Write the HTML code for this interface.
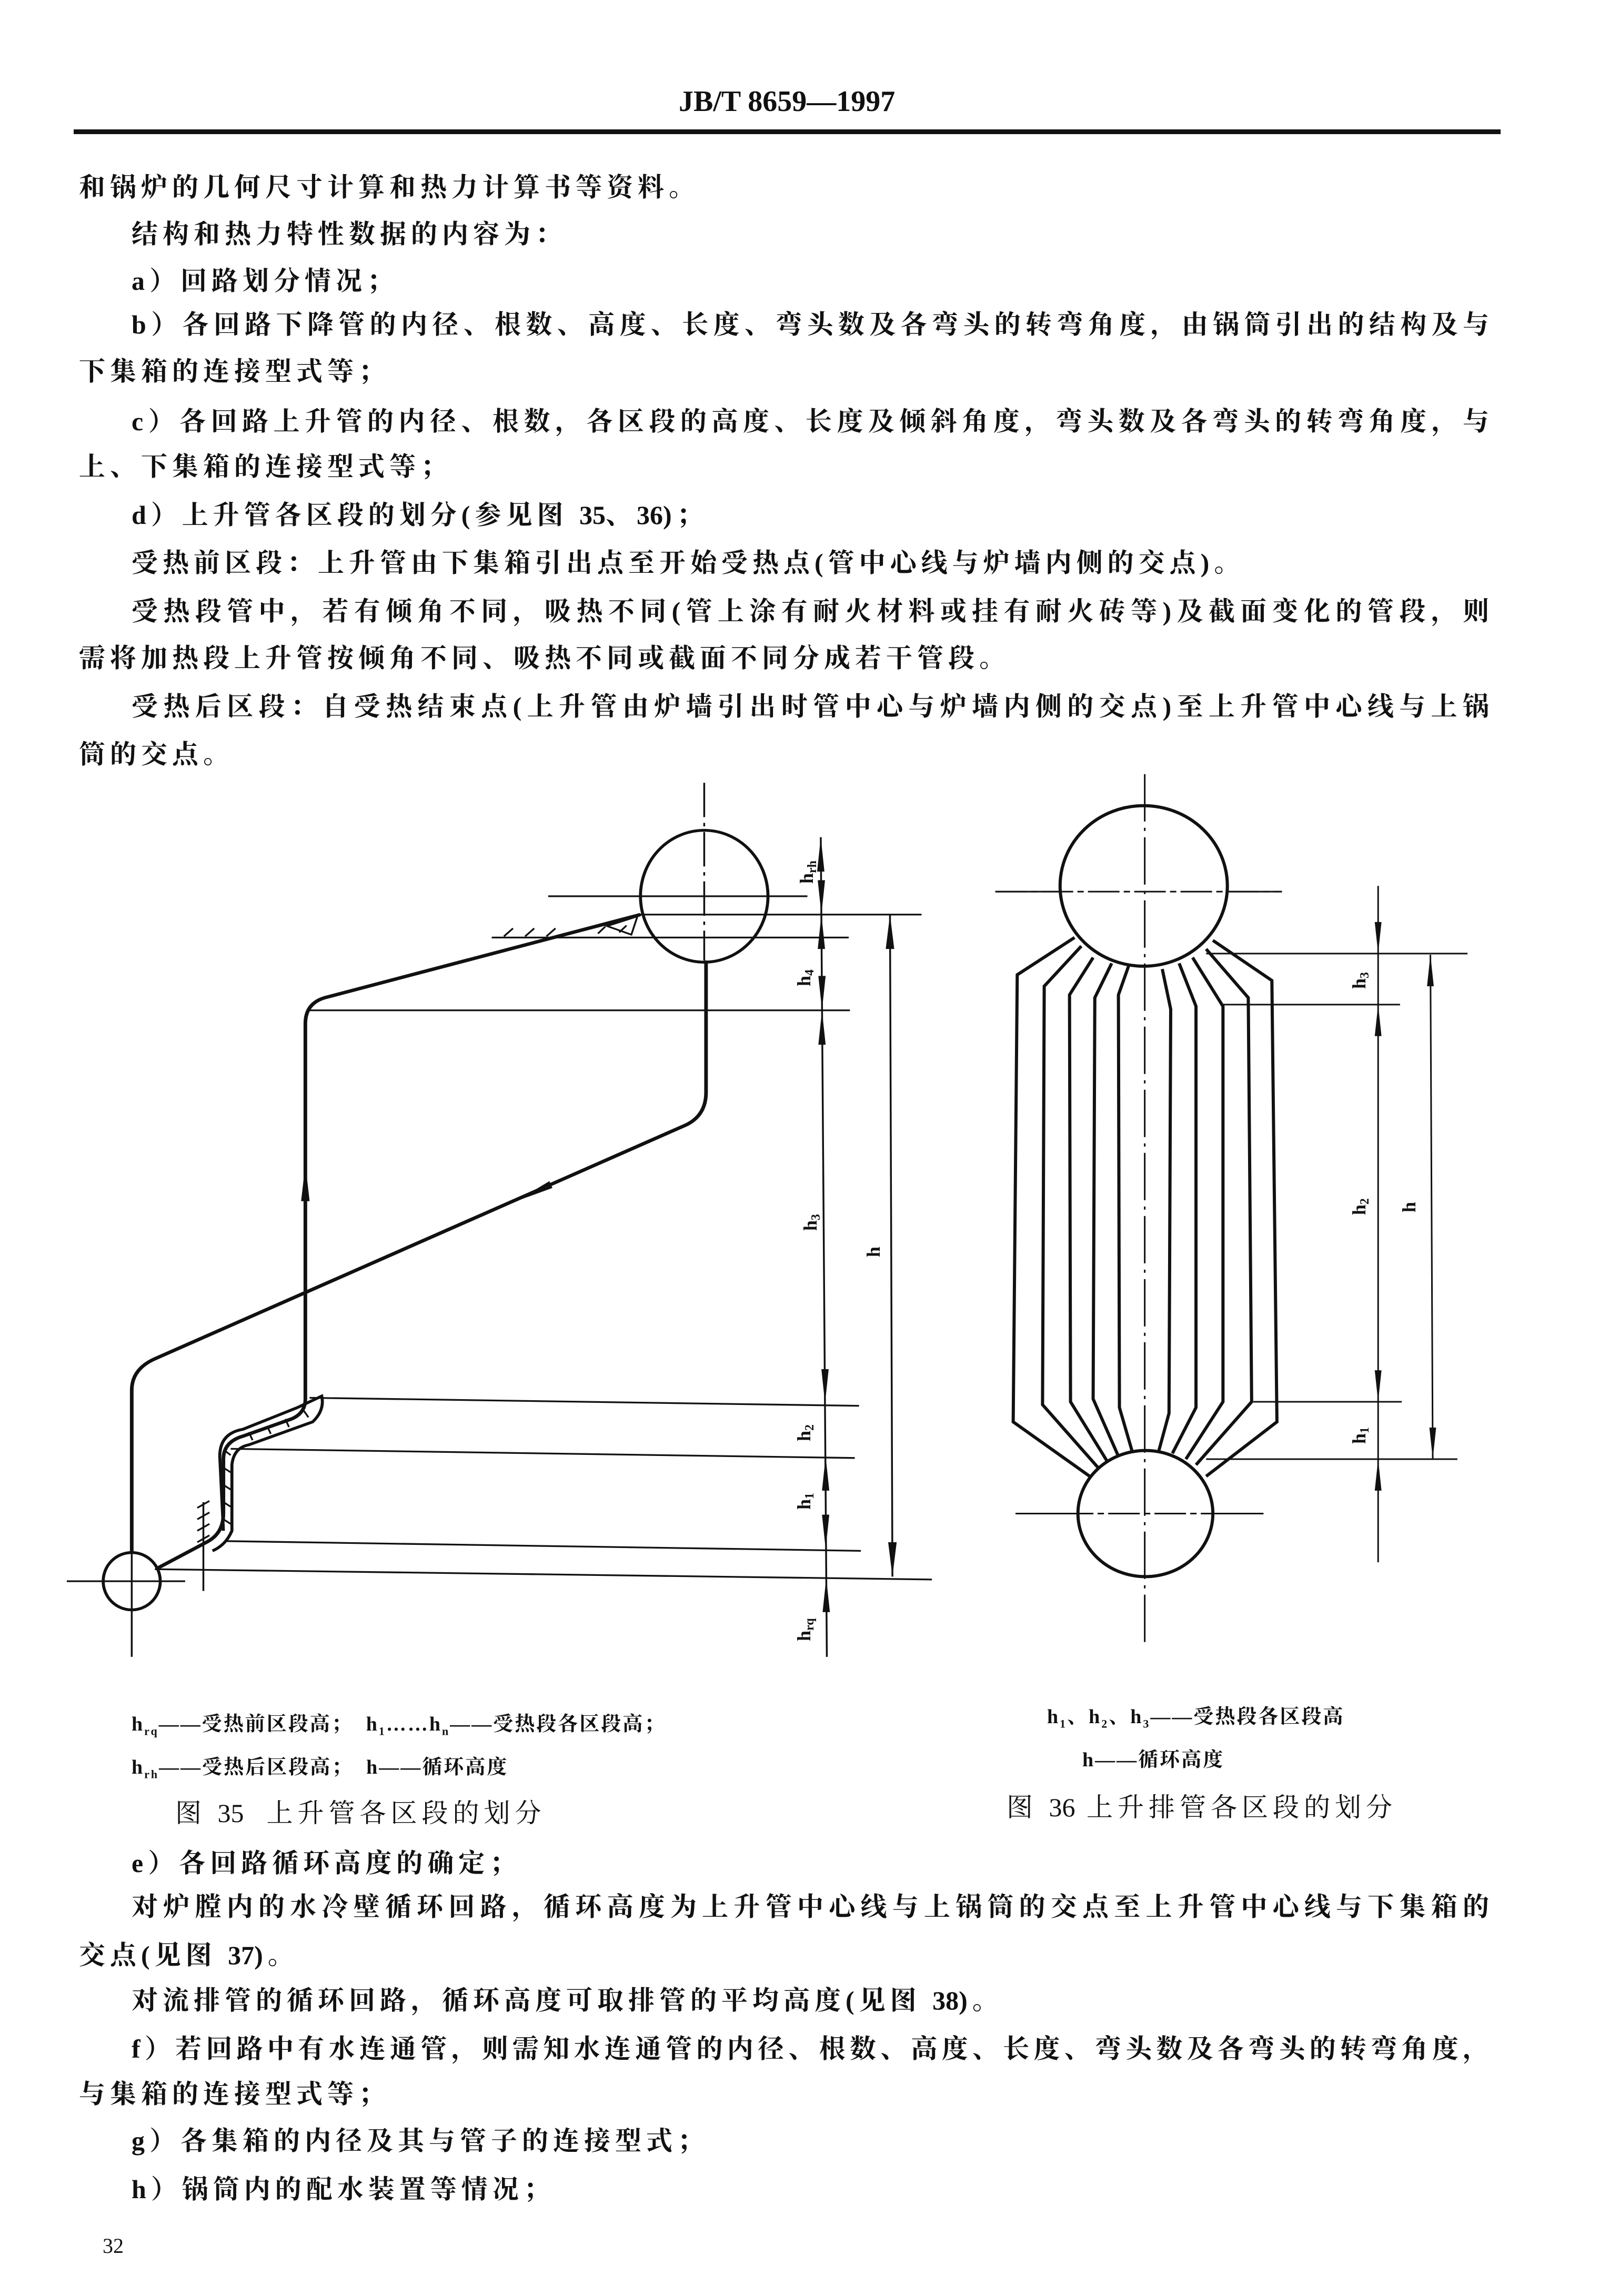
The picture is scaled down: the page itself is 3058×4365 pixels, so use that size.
<!DOCTYPE html>
<html><head><meta charset="utf-8"><style>
body{margin:0;background:#fff}
#p{position:relative;width:3058px;height:4365px;overflow:hidden;background:#fff;color:#111}
.t{position:absolute;font-family:"Liberation Serif","Noto Serif CJK SC",serif;font-size:50px;line-height:60px;white-space:nowrap;font-weight:bold;letter-spacing:9px}
.j{text-align:justify;text-align-last:justify;letter-spacing:0}
.s{font-size:38px;letter-spacing:3px}
.n{letter-spacing:0}
svg{position:absolute;left:0;top:0}
</style></head><body><div id="p">
<div class="t" style="left:1290px;top:163px;font-size:56px;letter-spacing:0">JB/T 8659—1997</div>
<div style="position:absolute;left:140px;top:246px;width:2712px;height:9px;background:#111"></div>

<div class="t" style="left:150px;top:326px">和锅炉的几何尺寸计算和热力计算书等资料。</div>
<div class="t" style="left:250px;top:415px">结构和热力特性数据的内容为：</div>
<div class="t" style="left:250px;top:504px">a）回路划分情况；</div>
<div class="t j" style="left:250px;top:587px;width:2580px">b）各回路下降管的内径、根数、高度、长度、弯头数及各弯头的转弯角度，由锅筒引出的结构及与</div>
<div class="t" style="left:150px;top:676px">下集箱的连接型式等；</div>
<div class="t j" style="left:250px;top:771px;width:2580px">c）各回路上升管的内径、根数，各区段的高度、长度及倾斜角度，弯头数及各弯头的转弯角度，与</div>
<div class="t" style="left:150px;top:857px">上、下集箱的连接型式等；</div>
<div class="t" style="left:250px;top:949px">d）上升管各区段的划分(参见图 <span class="n">35</span>、<span class="n">36</span>)；</div>
<div class="t" style="left:250px;top:1040px">受热前区段：上升管由下集箱引出点至开始受热点(管中心线与炉墙内侧的交点)。</div>
<div class="t j" style="left:250px;top:1132px;width:2580px">受热段管中，若有倾角不同，吸热不同(管上涂有耐火材料或挂有耐火砖等)及截面变化的管段，则</div>
<div class="t" style="left:150px;top:1221px">需将加热段上升管按倾角不同、吸热不同或截面不同分成若干管段。</div>
<div class="t j" style="left:250px;top:1313px;width:2580px">受热后区段：自受热结束点(上升管由炉墙引出时管中心与炉墙内侧的交点)至上升管中心线与上锅</div>
<div class="t" style="left:150px;top:1404px">筒的交点。</div>

<svg width="3058" height="4365">
<g transform="translate(0,1450) scale(1.1538,1.0897)" fill="none" stroke="#111">
 <line x1="903" y1="233" x2="1330" y2="233" stroke-width="3"/>
 <line x1="1160" y1="35" x2="1160" y2="345" stroke-width="3" stroke-dasharray="60 10 6 10"/>
 <line x1="1050" y1="265" x2="1518" y2="265" stroke-width="3"/>
 <line x1="810" y1="305" x2="1398" y2="305" stroke-width="3"/>
 <line x1="510" y1="432" x2="1400" y2="432" stroke-width="3"/>
 <line x1="510" y1="1108" x2="1415" y2="1122" stroke-width="3"/>
 <line x1="380" y1="1197" x2="1408" y2="1213" stroke-width="3"/>
 <line x1="370" y1="1358" x2="1418" y2="1375" stroke-width="3"/>
 <line x1="255" y1="1407" x2="1535" y2="1425" stroke-width="3"/>
 <line x1="110" y1="1428" x2="305" y2="1428" stroke-width="3"/>
 <line x1="217" y1="1380" x2="217" y2="1560" stroke-width="3"/>
 <line x1="335" y1="1290" x2="335" y2="1445" stroke-width="3"/>
 <line x1="1352" y1="130" x2="1362" y2="1560" stroke-width="3"/>
 <line x1="1466" y1="265" x2="1470" y2="1420" stroke-width="3"/>
 <path d="M830 303 l15 -14 M865 303 l15 -14 M900 303 l15 -14 M985 298 l12 -12 M1020 296 l12 -12 M325 1300 l20 -12 M325 1320 l20 -12 M325 1340 l20 -12 M325 1360 l20 -12" stroke-width="3"/>
 <path d="M1163 345 L1163 575 Q1163 615 1130 632 L255 1040 Q217 1058 217 1095 L217 1380" stroke-width="6"/>
 <path d="M260 1405 L340 1360 Q368 1345 368 1310 L368 1215 Q368 1185 400 1175 L480 1145 Q503 1135 503 1110 L503 455 Q503 420 535 410 L1055 265" stroke-width="6"/>
 <path d="M368 1340 L362 1210 Q362 1170 400 1163 L490 1125 Q520 1110 530 1105 Q535 1130 515 1150 L410 1190 Q385 1195 382 1225 L382 1340 Q372 1365 350 1375" stroke-width="5"/>
 <path d="M370 1200 l10 8 M368 1230 l12 8 M368 1260 l12 8 M368 1290 l12 8 M368 1320 l12 8 M410 1168 l6 14 M440 1157 l6 14 M470 1145 l6 14 M500 1130 l8 12" stroke-width="3"/>
 <path d="M1000 285 L1050 268 L1040 300 Z" stroke-width="3"/>
 <ellipse cx="1160" cy="233" rx="105" ry="115" stroke-width="5"/>
 <ellipse cx="217" cy="1428" rx="47" ry="50" stroke-width="5"/>
 <g fill="#111" stroke="none">
  <path d="M503 700 l-7 65 l14 0 Z"/>
  <path d="M850 765 l55 -35 l5 12 Z"/>
  <path d="M1352 130 l-6 60 l12 0 Z M1353 265 l-6 -60 l12 0Z M1353 265 l-6 60 l12 0Z M1354 432 l-6 -60 l12 0Z M1354 432 l-6 60 l12 0Z M1359 1118 l-6 -60 l12 0Z M1360 1210 l-6 60 l12 0Z M1360 1372 l-6 -60 l12 0Z M1361 1422 l-6 60 l12 0Z"/>
  <path d="M1466 265 l-7 60 l14 0Z M1470 1420 l-7 -60 l14 0Z"/>
 </g>
</g>
<g font-family="Liberation Serif,serif" font-weight="bold" font-size="36" fill="#111">
 <text transform="translate(1545,1680) rotate(-90)">h<tspan font-size="24" dy="6">rh</tspan></text>
 <text transform="translate(1540,1875) rotate(-90)">h<tspan font-size="24" dy="6">4</tspan></text>
 <text transform="translate(1552,2340) rotate(-90)">h<tspan font-size="24" dy="6">3</tspan></text>
 <text transform="translate(1672,2390) rotate(-90)">h</text>
 <text transform="translate(1540,2740) rotate(-90)">h<tspan font-size="24" dy="6">2</tspan></text>
 <text transform="translate(1540,2870) rotate(-90)">h<tspan font-size="24" dy="6">1</tspan></text>
 <text transform="translate(1540,3120) rotate(-90)">h<tspan font-size="24" dy="6">rq</tspan></text>
</g>

<g transform="translate(1850,1450) scale(0.641,1.0897)" fill="none" stroke="#111">
 <line x1="65" y1="225" x2="915" y2="225" stroke-width="3" vector-effect="non-scaling-stroke"/>
 <line x1="125" y1="1310" x2="860" y2="1310" stroke-width="3" vector-effect="non-scaling-stroke"/>
 <line x1="690" y1="333" x2="1465" y2="333" stroke-width="3" vector-effect="non-scaling-stroke"/>
 <line x1="740" y1="422" x2="1265" y2="422" stroke-width="3" vector-effect="non-scaling-stroke"/>
 <line x1="830" y1="1115" x2="1270" y2="1115" stroke-width="3" vector-effect="non-scaling-stroke"/>
 <line x1="690" y1="1215" x2="1435" y2="1215" stroke-width="3" vector-effect="non-scaling-stroke"/>
 <line x1="1200" y1="215" x2="1200" y2="1395" stroke-width="3" vector-effect="non-scaling-stroke"/>
 <line x1="1355" y1="335" x2="1362" y2="1215" stroke-width="3" vector-effect="non-scaling-stroke"/>
 <g stroke-width="6">
 <polyline vector-effect="non-scaling-stroke" points="300,305 130,370 118,1150 345,1245"/>
 <polyline vector-effect="non-scaling-stroke" points="320,320 210,390 205,1120 370,1230"/>
 <polyline vector-effect="non-scaling-stroke" points="355,340 285,405 288,1115 398,1220"/>
 <polyline vector-effect="non-scaling-stroke" points="410,350 360,410 355,1110 430,1210"/>
 <polyline vector-effect="non-scaling-stroke" points="460,355 430,405 433,1125 470,1200"/>
 <polyline vector-effect="non-scaling-stroke" points="560,360 585,430 580,1135 550,1200"/>
 <polyline vector-effect="non-scaling-stroke" points="610,350 660,425 660,1125 590,1205"/>
 <polyline vector-effect="non-scaling-stroke" points="650,340 740,425 740,1115 630,1215"/>
 <polyline vector-effect="non-scaling-stroke" points="690,325 815,410 825,1115 660,1225"/>
 <polyline vector-effect="non-scaling-stroke" points="710,310 885,380 900,1150 690,1245"/>
 </g>
 <ellipse cx="505" cy="215" rx="248" ry="140" fill="#fff" stroke-width="6" vector-effect="non-scaling-stroke"/>
 <ellipse cx="510" cy="1310" rx="200" ry="110" fill="#fff" stroke-width="6" vector-effect="non-scaling-stroke"/>
 <line x1="65" y1="225" x2="915" y2="225" stroke-width="3" stroke-dasharray="60 8 12 8" vector-effect="non-scaling-stroke"/>
 <line x1="125" y1="1310" x2="860" y2="1310" stroke-width="3" stroke-dasharray="60 8 12 8" vector-effect="non-scaling-stroke"/>
 <line x1="508" y1="20" x2="508" y2="1545" stroke-width="3" stroke-dasharray="90 12 6 12" vector-effect="non-scaling-stroke"/>
 <g fill="#111" stroke="none">
  <path d="M1200 333 l-10 -55 l20 0Z M1200 422 l-10 55 l20 0Z M1200 1115 l-10 -55 l20 0Z M1200 1215 l-10 55 l20 0Z M1355 335 l-10 55 l20 0Z M1362 1215 l-10 -55 l20 0Z"/>
 </g>
</g>
<g font-family="Liberation Serif,serif" font-weight="bold" font-size="36" fill="#111">
 <text transform="translate(2595,1880) rotate(-90)">h<tspan font-size="24" dy="6">3</tspan></text>
 <text transform="translate(2595,2310) rotate(-90)">h<tspan font-size="24" dy="6">2</tspan></text>
 <text transform="translate(2690,2305) rotate(-90)">h</text>
 <text transform="translate(2595,2745) rotate(-90)">h<tspan font-size="24" dy="6">1</tspan></text>
</g>
</svg>

<div class="t s" style="left:250px;top:3248px">h<sub style="font-size:22px">rq</sub>——受热前区段高；&nbsp; h<sub style="font-size:22px">1</sub>……h<sub style="font-size:22px">n</sub>——受热段各区段高；</div>
<div class="t s" style="left:250px;top:3330px">h<sub style="font-size:22px">rh</sub>——受热后区段高；&nbsp; h——循环高度</div>
<div class="t" style="left:333px;top:3417px;font-weight:normal">图 <span class="n">35</span>&nbsp; 上升管各区段的划分</div>
<div class="t s" style="left:1990px;top:3234px">h<sub style="font-size:22px">1</sub>、h<sub style="font-size:22px">2</sub>、h<sub style="font-size:22px">3</sub>——受热段各区段高</div>
<div class="t s" style="left:2057px;top:3316px">h——循环高度</div>
<div class="t" style="left:1913px;top:3406px;font-weight:normal">图 <span class="n">36</span> 上升排管各区段的划分</div>

<div class="t" style="left:250px;top:3512px">e）各回路循环高度的确定；</div>
<div class="t j" style="left:250px;top:3595px;width:2580px">对炉膛内的水冷壁循环回路，循环高度为上升管中心线与上锅筒的交点至上升管中心线与下集箱的</div>
<div class="t" style="left:150px;top:3687px">交点(见图 <span class="n">37</span>)。</div>
<div class="t" style="left:250px;top:3773px">对流排管的循环回路，循环高度可取排管的平均高度(见图 <span class="n">38</span>)。</div>
<div class="t j" style="left:250px;top:3865px;width:2580px">f）若回路中有水连通管，则需知水连通管的内径、根数、高度、长度、弯头数及各弯头的转弯角度，</div>
<div class="t" style="left:150px;top:3951px">与集箱的连接型式等；</div>
<div class="t" style="left:250px;top:4040px">g）各集箱的内径及其与管子的连接型式；</div>
<div class="t" style="left:250px;top:4132px">h）锅筒内的配水装置等情况；</div>
<div class="t" style="left:195px;top:4240px;font-weight:normal;font-size:40px;letter-spacing:0">32</div>
</div></body></html>
